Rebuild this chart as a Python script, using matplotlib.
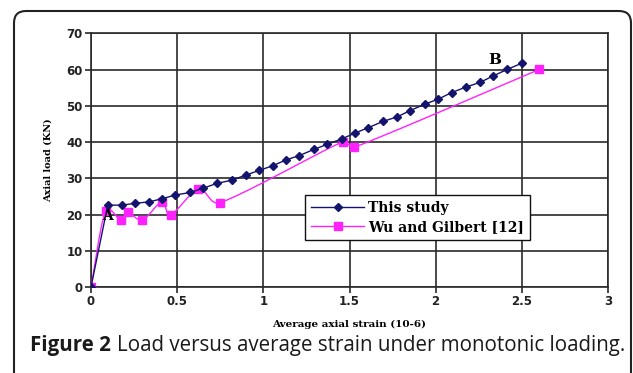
import numpy as np
import matplotlib.pyplot as plt
from matplotlib.lines import Line2D
from matplotlib.patches import FancyBboxPatch
from matplotlib.transforms import IdentityTransform

# load-strain readings, this study
strain_study = [0, 0.097, 0.178, 0.255, 0.337, 0.414, 0.49, 0.575, 0.652, 0.73,
                0.817, 0.898, 0.977, 1.055, 1.132, 1.209, 1.294, 1.371, 1.455,
                1.532, 1.609, 1.693, 1.778, 1.851, 1.938, 2.016, 2.093, 2.176,
                2.257, 2.335, 2.416, 2.5]
load_study = [0, 22.6, 22.6, 23.1, 23.5, 24.4, 25.4, 26.1, 27.3, 28.6,
              29.5, 30.9, 32.2, 33.5, 35.1, 36.3, 38.0, 39.4, 40.9,
              42.5, 44.0, 45.7, 47.0, 48.7, 50.5, 51.9, 53.7, 55.2,
              56.5, 58.3, 60.1, 61.8]

# Wu and Gilbert [12]
strain_wu = [0, 0.085, 0.174, 0.213, 0.298, 0.41, 0.464, 0.623, 0.749, 1.461, 1.528, 2.602]
load_wu = [0, 21.1, 18.5, 20.7, 18.5, 23.5, 20.0, 27.0, 23.3, 40.1, 38.6, 60.1]

xticks = [0, 0.5, 1, 1.5, 2, 2.5, 3]
xtick_labels = ["0", "0.5", "1", "1.5", "2", "2.5", "3"]
yticks = [0, 10, 20, 30, 40, 50, 60, 70]

NAVY = "#14146e"
MAGENTA = "#ff22ff"


def smooth(x, y, sx=172.0, sy=3.62, n=24):
    # smoothed line through every point; tangents worked out in screen
    # units and clamped so long neighbouring segments don't make loops
    p = np.column_stack([np.asarray(x, float) * sx, np.asarray(y, float) * sy])
    m = len(p)
    tang = np.zeros_like(p)
    for i in range(m):
        a = p[max(i - 1, 0)]
        b = p[min(i + 1, m - 1)]
        tang[i] = (b - a) / 6
    t = np.linspace(0, 1, n)[:, None]
    out = []
    for i in range(m - 1):
        p1, p2 = p[i], p[i + 1]
        seg = np.hypot(*(p2 - p1))
        lim = 0.45 * seg
        d1, d2 = tang[i], tang[i + 1]
        l1, l2 = np.hypot(*d1), np.hypot(*d2)
        if l1 > lim:
            d1 = d1 * lim / l1
        if l2 > lim:
            d2 = d2 * lim / l2
        c1, c2 = p1 + d1, p2 - d2
        b = ((1 - t) ** 3) * p1 + 3 * ((1 - t) ** 2) * t * c1 + 3 * (1 - t) * t ** 2 * c2 + t ** 3 * p2
        out.append(b)
    out = np.vstack(out)
    return out[:, 0] / sx, out[:, 1] / sy


fig = plt.figure(figsize=(6.33, 3.73), dpi=100)
ax = fig.add_axes([0.1438, 0.2306, 0.8167, 0.6796])

wx, wy = smooth(strain_wu, load_wu)
ax.plot(wx, wy, color=MAGENTA, lw=1.0, zorder=3)
ax.plot(strain_wu, load_wu, ls="none", marker="s", ms=6, color=MAGENTA, zorder=4)

ax.plot(strain_study, load_study, color=NAVY, lw=1.0, zorder=5)
ax.plot(strain_study, load_study, ls="none", marker="D", ms=4.5, color=NAVY, zorder=6)

ax.set_xlim(0, 3)
ax.set_ylim(0, 70)
ax.set_xticks(xticks)
ax.set_xticklabels(xtick_labels)
ax.set_yticks(yticks)
ax.grid(True, color="#2a2a2a", lw=1.2)
ax.set_axisbelow(True)
for s in ax.spines.values():
    s.set_color("#2a2a2a")
    s.set_linewidth(1.2)
ax.tick_params(direction="out", length=4, width=1.2, color="#2a2a2a",
               labelsize=8.5, labelcolor="#222222", pad=2)
for lab in ax.get_xticklabels() + ax.get_yticklabels():
    lab.set_fontweight("bold")

ax.set_xlabel("Average axial strain (10-6)", family="DejaVu Serif",
              fontweight="bold", fontsize=7.5, labelpad=8)
ax.set_ylabel("Axial load (KN)", family="DejaVu Serif", fontweight="bold",
              fontsize=7, labelpad=10)

ax.text(0.097, 19.6, "A", family="DejaVu Serif", fontweight="bold", fontsize=10,
        ha="center", va="center", zorder=7)
ax.text(2.345, 62.7, "B", family="DejaVu Serif", fontweight="bold", fontsize=11,
        ha="center", va="center", zorder=7)

handles = [Line2D([], [], color=NAVY, lw=1.0, marker="D", ms=4.5),
           Line2D([], [], color=MAGENTA, lw=1.0, marker="s", ms=6)]
leg = ax.legend(handles, ["This study", "Wu and Gilbert [12]"],
                loc="upper left", bbox_to_anchor=(305 / 633, 1 - 195 / 373),
                bbox_transform=fig.transFigure, borderaxespad=0,
                fancybox=False, framealpha=1,
                edgecolor="#111111", handlelength=3.8, handletextpad=0.3,
                borderpad=0.45, labelspacing=0.35,
                prop={"family": "DejaVu Serif", "weight": "bold", "size": 10})
leg.get_frame().set_linewidth(1.0)

# rounded panel frame running off the bottom edge
frame = FancyBboxPatch((14, -30), 617, 373 - 11 + 30,
                       boxstyle="round,pad=0,rounding_size=12",
                       transform=IdentityTransform(), fill=False,
                       edgecolor="#222222", lw=1.5)
fig.add_artist(frame)

cap1 = fig.text(30 / 633, 1 - 346 / 373, "Figure 2", family="Open Sans",
                fontweight="bold", fontsize=14.8, va="center", color="#1a1a1a")
fig.canvas.draw()
ext = cap1.get_window_extent()
fig.text((ext.x1 + 6) / 633, 1 - 346 / 373,
         "Load versus average strain under monotonic loading.",
         family="Open Sans", fontsize=14.8, va="center", color="#1a1a1a")

fig.savefig("out.png", dpi=100)
